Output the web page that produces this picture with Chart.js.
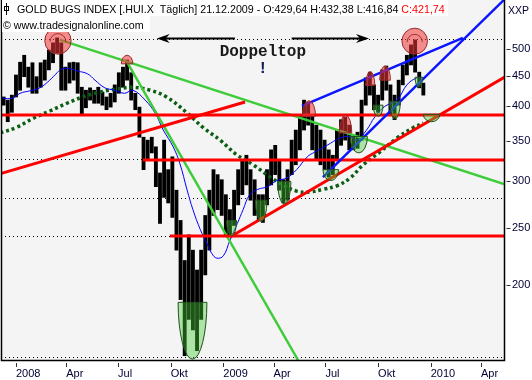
<!DOCTYPE html>
<html>
<head>
<meta charset="utf-8">
<script src="https://cdn.jsdelivr.net/npm/chart.js@4.4.1/dist/chart.umd.min.js"></script>
<style>
  html, body { margin: 0; padding: 0; background: #fff; }
  canvas { display: block; }
</style>
</head>
<body>
<canvas id="chart-hui" width="532" height="380"></canvas>
<script>
// Gold Bugs Index (HUI) 2008-2009, Wochen-Hoch/Tief aus dem Chart abgelesen
// x-Achse = Handelstage ab 02.01.2008

const tickDays = [0, 61, 124, 188, 252, 313, 376, 440, 504, 565];
const tickLabels = ['2008', 'Apr', 'Jul', 'Okt', '2009', 'Apr', 'Jul', 'Okt', '2010', 'Apr'];
const priceTicks = [200, 250, 300, 350, 400, 450, 500];

// eine Kerze pro Woche
const firstBarDay = -15;
const barStep = 5;
const barLow = [402, 377, 391, 415, 426, 449, 431, 421, 421, 431,
  443, 461, 474, 492, 426, 426, 438, 443, 421, 387,
  398, 410, 405, 405, 402, 395, 399, 407, 421, 431,
  443, 410, 395, 355, 313, 325, 334, 293, 254, 281,
  275, 260, 229, 189, 152, 175, 168, 155, 175, 208,
  229, 262, 268, 262, 243, 243, 252, 273, 284, 295,
  278, 262, 257, 255, 273, 295, 307, 289, 275, 278,
  307, 319, 338, 365, 372, 338, 325, 319, 313, 304,
  307, 325, 344, 351, 338, 338, 340, 351, 402, 418,
  395, 391, 410, 426, 387, 380, 402, 435, 452, 470,
  457, 430, 418];
const barHigh = [415, 410, 418, 452, 475, 488, 466, 474, 449, 474,
  479, 498, 512, 522, 512, 466, 474, 475, 474, 431,
  426, 430, 426, 431, 423, 415, 421, 435, 456, 466,
  479, 456, 421, 399, 355, 351, 355, 342, 309, 351,
  313, 329, 289, 257, 220, 243, 229, 212, 229, 262,
  289, 313, 307, 301, 284, 268, 289, 313, 325, 331,
  313, 301, 284, 284, 313, 338, 344, 325, 301, 313,
  351, 365, 387, 410, 405, 387, 372, 365, 351, 338,
  331, 365, 380, 384, 372, 358, 362, 410, 447, 457,
  435, 418, 461, 468, 435, 418, 443, 470, 488, 508,
  518, 457, 438];

// gleitender Durchschnitt (blau, duenn)
const maDays = [-17, -4, 5, 17, 29, 41, 50, 56, 66, 75, 87, 96, 108, 120, 132, 142, 157, 169, 179, 191,
  199, 208, 215, 224, 232, 238, 244, 252, 260, 269, 276, 284, 294, 306, 317, 329, 341, 354, 363, 378,
  394, 406, 414, 426, 436, 448, 463, 475, 487, 495];
const maValues = [413, 413, 421, 425, 430, 443, 456, 463, 463, 459, 454, 443, 430, 426, 421, 426, 410, 390, 365, 342,
  321, 289, 268, 248, 235, 226, 222, 224, 238, 254, 268, 284, 290, 293, 300, 303, 313, 329, 335, 344,
  354, 356, 351, 365, 384, 400, 410, 435, 447, 447];

// langer Durchschnitt (gruen gepunktet)
const ma200Days = [-19, 1, 21, 41, 62, 81, 102, 123, 142, 163, 183, 208, 227, 248, 269, 288, 309, 324, 341, 357,
  373, 390, 406, 422, 442, 463, 482, 495];
const ma200Values = [361, 369, 382, 393, 405, 415, 423, 428, 431, 426, 415, 390, 369, 351, 331, 319, 304, 295, 288, 287,
  290, 294, 303, 319, 335, 354, 368, 375];

// Trendlinien [Tag, Kurs]
const greenLines = [
  [[53.5, 518], [593, 296]],
  [[135, 475], [342.7, 149.5]]
];
const redLines = [
  [[-19.4, 308], [278.3, 407]],
  [[260, 241], [594, 448.5]],
  [[-19, 387], [594, 387]],
  [[154, 325], [594, 325]],
  [[187, 242], [594, 242]]
];
const blueLines = [
  [[347.5, 401], [543, 522]],
  [[373, 304], [593, 605]]
];
const dottedLevels = [519, 325.6, 280.4, 241.6, 151];

// Markierungen [vonTag, bisTag, Kurs oben, Kurs unten]
const topCircles = [[35, 67, 544, 490], [469, 500, 542, 490]];
const topDomes = [[128, 142, 488, 472], [348, 364, 409, 385], [393, 408, 387, 361], [425, 436, 458, 434], [442, 455, 468, 443]];
const bottomMarks = [[197, 232, 187, 150], [256, 268, 257, 242], [291, 305, 278, 256], [318, 334, 299, 274],
  [373, 392, 313, 300], [406, 427, 356, 334], [434, 446, 402, 385], [454, 467, 408, 381],
  [485, 494, 448, 431], [495, 515, 388, 377]];
const arrowLevel = 522;
const arrows = [[266, 171], [335, 429]];
const notes = [{ text: 'Doppeltop', day: 300, price: 487 }, { text: '!', day: 300, price: 455.5 }];

const titleMain = 'GOLD BUGS INDEX [.HUI.X  Täglich] 21.12.2009 - O:429,64 H:432,38 L:416,84 ';
const titleClose = 'C:421,74';
const copyright = '© www.tradesignalonline.com';

const xMin = -18.2, xMax = 593;
const yMin = 149.5, yMax = 604.7;

function lineSet(pts, color, width, order) {
  return {
    type: 'line',
    data: pts.map(p => ({ x: p[0], y: p[1] })),
    borderColor: color,
    borderWidth: width,
    pointRadius: 0,
    fill: false,
    clip: 0,
    order: order
  };
}

const datasets = [];
datasets.push({
  type: 'bar',
  data: barLow.map((lo, i) => ({ x: firstBarDay + i * barStep, y: [lo, barHigh[i]] })),
  backgroundColor: '#000',
  borderWidth: 0,
  barThickness: 3.2,
  clip: 0,
  order: 20
});
datasets.push({
  type: 'line',
  data: ma200Days.map((d, i) => ({ x: d, y: ma200Values[i] })),
  borderColor: '#0b5e12',
  borderWidth: 3.5,
  borderDash: [3, 3],
  borderCapStyle: 'butt',
  tension: 0.4,
  pointRadius: 0,
  clip: 0,
  order: 10
});
datasets.push({
  type: 'line',
  data: maDays.map((d, i) => ({ x: d, y: maValues[i] })),
  borderColor: '#0000ff',
  borderWidth: 1,
  tension: 0.4,
  pointRadius: 0,
  clip: 0,
  order: 9
});
greenLines.forEach(l => datasets.push(lineSet(l, '#3fcc3a', 2.5, 6)));
redLines.forEach(l => datasets.push(lineSet(l, '#ff0000', 3, 5)));
blueLines.forEach(l => datasets.push(lineSet(l, '#0a14ff', 2.5, 4)));

const hintergrund = {
  id: 'hintergrund',
  beforeDraw(chart) {
    const { ctx, chartArea: a } = chart;
    const ys = chart.scales.y;
    ctx.save();
    ctx.fillStyle = '#fff';
    ctx.fillRect(0, 0, chart.width, chart.height);
    ctx.fillStyle = '#f4f4f4';
    ctx.fillRect(a.left, a.top, a.right - a.left, a.bottom - a.top);
    ctx.strokeStyle = '#000';
    ctx.lineWidth = 1;
    ctx.setLineDash([1, 3]);
    dottedLevels.forEach(p => {
      const y = Math.round(ys.getPixelForValue(p)) + 0.5;
      ctx.beginPath();
      ctx.moveTo(a.left, y);
      ctx.lineTo(a.right, y);
      ctx.stroke();
    });
    ctx.restore();
  }
};

const markierungen = {
  id: 'markierungen',
  afterDatasetsDraw(chart) {
    const { ctx, chartArea: a } = chart;
    const xs = chart.scales.x, ys = chart.scales.y;
    ctx.save();
    ctx.beginPath();
    ctx.rect(a.left, a.top, a.right - a.left, a.bottom - a.top);
    ctx.clip();

    // Tiefs: untere Halbellipsen
    bottomMarks.forEach(([d1, d2, pTop, pBot]) => {
      const x1 = xs.getPixelForValue(d1), x2 = xs.getPixelForValue(d2);
      const yT = ys.getPixelForValue(pTop), yB = ys.getPixelForValue(pBot);
      ctx.beginPath();
      ctx.ellipse((x1 + x2) / 2, yT, (x2 - x1) / 2, yB - yT, 0, 0, Math.PI);
      ctx.closePath();
      ctx.fillStyle = 'rgba(70,205,55,0.42)';
      ctx.fill();
      ctx.strokeStyle = '#244f20';
      ctx.lineWidth = 1;
      ctx.stroke();
    });

    // Hochs: obere Halbellipsen
    topDomes.forEach(([d1, d2, pTop, pBase]) => {
      const x1 = xs.getPixelForValue(d1), x2 = xs.getPixelForValue(d2);
      const yT = ys.getPixelForValue(pTop), yB = ys.getPixelForValue(pBase);
      ctx.beginPath();
      ctx.ellipse((x1 + x2) / 2, yB, (x2 - x1) / 2, yB - yT, 0, Math.PI, 2 * Math.PI);
      ctx.closePath();
      ctx.fillStyle = 'rgba(240,55,55,0.55)';
      ctx.fill();
      ctx.strokeStyle = '#9a2a2a';
      ctx.lineWidth = 1;
      ctx.stroke();
    });

    // grosse Kreise am Doppeltop
    topCircles.forEach(([d1, d2, pHi, pLo]) => {
      const x1 = xs.getPixelForValue(d1), x2 = xs.getPixelForValue(d2);
      const y1 = ys.getPixelForValue(pHi), y2 = ys.getPixelForValue(pLo);
      const cx = (x1 + x2) / 2, cy = (y1 + y2) / 2, rx = (x2 - x1) / 2, ry = (y2 - y1) / 2;
      ctx.beginPath();
      ctx.ellipse(cx, cy, rx, ry, 0, 0, 2 * Math.PI);
      ctx.fillStyle = 'rgba(240,55,55,0.55)';
      ctx.fill();
      ctx.strokeStyle = '#9a2a2a';
      ctx.lineWidth = 1;
      ctx.stroke();
      ctx.beginPath();
      ctx.ellipse(cx, cy + 1, rx * 0.6, ry * 0.6, 0, Math.PI, 2 * Math.PI);
      ctx.strokeStyle = 'rgba(150,20,20,0.8)';
      ctx.stroke();
    });

    // Pfeile
    const ay = Math.round(ys.getPixelForValue(arrowLevel)) + 0.5;
    ctx.strokeStyle = '#000';
    ctx.fillStyle = '#000';
    arrows.forEach(([from, to]) => {
      const x1 = xs.getPixelForValue(from), x2 = xs.getPixelForValue(to);
      const dir = x2 > x1 ? 1 : -1;
      ctx.lineWidth = 2;
      ctx.beginPath();
      ctx.moveTo(x1, ay);
      ctx.lineTo(x2 - dir * 8, ay);
      ctx.stroke();
      ctx.beginPath();
      ctx.moveTo(x2, ay);
      ctx.lineTo(x2 - dir * 13, ay - 4.5);
      ctx.lineTo(x2 - dir * 9, ay);
      ctx.lineTo(x2 - dir * 13, ay + 4.5);
      ctx.closePath();
      ctx.fill();
    });

    // Beschriftung
    ctx.font = 'bold 16px "Liberation Mono", "DejaVu Sans Mono", monospace';
    ctx.textAlign = 'center';
    ctx.textBaseline = 'alphabetic';
    notes.forEach(n => {
      ctx.fillStyle = n.text === '!' ? '#101a50' : '#1a1a1a';
      ctx.fillText(n.text, xs.getPixelForValue(n.day), ys.getPixelForValue(n.price));
    });
    ctx.restore();
  },
  afterDraw(chart) {
    const { ctx, chartArea: a } = chart;
    const xs = chart.scales.x, ys = chart.scales.y;
    ctx.save();
    // Rahmen
    ctx.strokeStyle = '#000';
    ctx.lineWidth = 1.5;
    ctx.beginPath();
    ctx.moveTo(a.left + 0.5, a.top);
    ctx.lineTo(a.left + 0.5, a.bottom + 0.5);
    ctx.lineTo(a.right + 0.5, a.bottom + 0.5);
    ctx.lineTo(a.right + 0.5, a.top);
    ctx.stroke();

    // Teilstriche
    ctx.lineWidth = 1;
    ctx.strokeStyle = '#333';
    priceTicks.forEach(v => {
      const y = Math.round(ys.getPixelForValue(v)) + 0.5;
      ctx.beginPath();
      ctx.moveTo(a.right + 2.5, y);
      ctx.lineTo(a.right + 6.5, y);
      ctx.stroke();
    });
    tickDays.forEach(d => {
      const x = Math.round(xs.getPixelForValue(d)) + 0.5;
      ctx.beginPath();
      ctx.moveTo(x, a.bottom + 3);
      ctx.lineTo(x, a.bottom + 7);
      ctx.stroke();
    });

    // Titel
    let size = 11;
    ctx.font = size + 'px "Liberation Sans", Arial, sans-serif';
    const w = ctx.measureText(titleMain + titleClose).width;
    size = size * 428 / w;
    ctx.font = size.toFixed(2) + 'px "Liberation Sans", Arial, sans-serif';
    ctx.fillStyle = '#fff';
    ctx.fillRect(a.left + 1, 0, 446, 16);
    ctx.fillRect(a.left + 1, 16, 148, 16);
    ctx.textAlign = 'left';
    ctx.textBaseline = 'alphabetic';
    ctx.fillStyle = '#000';
    ctx.fillText(titleMain, 17, 13);
    const wm = ctx.measureText(titleMain).width;
    ctx.fillStyle = '#ff0000';
    ctx.fillText(titleClose, 17 + wm, 13);
    ctx.fillStyle = '#000';
    ctx.fillText(copyright, 3, 29);
    // kleines Balkensymbol
    ctx.strokeStyle = '#000';
    ctx.beginPath();
    ctx.moveTo(6.5, 3);
    ctx.lineTo(6.5, 15);
    ctx.stroke();
    ctx.strokeRect(4.5, 6.5, 4, 4);

    ctx.font = '10.5px "Liberation Sans", Arial, sans-serif';
    ctx.fillStyle = '#000033';
    ctx.fillText('XXP', 508, 14);
    ctx.restore();
  }
};

const ctx = document.getElementById('chart-hui').getContext('2d');
new Chart(ctx, {
  type: 'bar',
  data: { datasets: datasets },
  options: {
    responsive: false,
    animation: false,
    devicePixelRatio: 1,
    layout: { padding: { left: 1, top: 0, right: 0, bottom: 0 } },
    plugins: { legend: { display: false }, tooltip: { enabled: false } },
    scales: {
      x: {
        type: 'linear',
        offset: false,
        min: xMin,
        max: xMax,
        bounds: 'data',
        grid: { display: false, drawTicks: false, offset: false },
        border: { display: false },
        afterFit(scale) {
          scale.height = 20;
          scale.paddingLeft = 0;
          scale.paddingRight = 0;
        },
        afterBuildTicks(scale) { scale.ticks = tickDays.map(v => ({ value: v })); },
        ticks: {
          autoSkip: false,
          maxRotation: 0,
          align: 'start',
          padding: 7,
          color: '#000033',
          font: { family: '"Liberation Sans", Arial, sans-serif', size: 11 },
          callback: (v, i) => tickLabels[i]
        }
      },
      y: {
        type: 'logarithmic',
        position: 'right',
        min: yMin,
        max: yMax,
        bounds: 'data',
        grid: { display: false, drawTicks: false },
        border: { display: false },
        afterFit(scale) {
          scale.width = 28;
          scale.paddingTop = 0;
          scale.paddingBottom = 0;
        },
        afterBuildTicks(scale) { scale.ticks = priceTicks.map(v => ({ value: v })); },
        ticks: {
          padding: 8,
          color: '#000033',
          font: { family: '"Liberation Sans", Arial, sans-serif', size: 11 },
          callback: v => String(v)
        }
      }
    }
  },
  plugins: [hintergrund, markierungen]
});
</script>
</body>
</html>
